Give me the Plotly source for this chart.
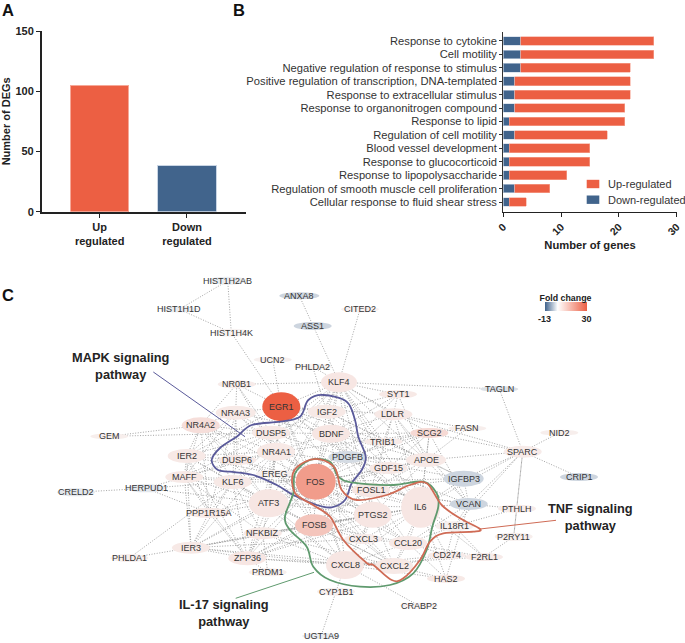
import plotly.graph_objects as go

# ---------- Panel A ----------
deg_categories = ["Up<br>regulated", "Down<br>regulated"]
deg_counts = [105, 38]
deg_ticks = [0, 50, 100, 150]

# ---------- Panel B ----------
terms = ["Response to cytokine", "Cell motility", "Negative regulation of response to stimulus",
         "Positive regulation of transcription, DNA-templated", "Response to extracellular stimulus",
         "Response to organonitrogen compound", "Response to lipid", "Regulation of cell motility",
         "Blood vessel development", "Response to glucocorticoid", "Response to lipopolysaccharide",
         "Regulation of smooth muscle cell proliferation", "Cellular response to fluid shear stress"]
genes_down = [3, 3, 3, 2, 2, 2, 1, 2, 1, 1, 1, 2, 1]
genes_up = [23, 23, 19, 20, 20, 19, 20, 16, 14, 14, 10, 6, 3]
gene_ticks = [0, 10, 20, 30]

# ---------- Panel C: network ----------
node_names = ["HIST1H2AB", "HIST1H1D", "HIST1H4K", "ANXA8", "ASS1", "CITED2", "UCN2", "PHLDA2", "NR0B1", "KLF4",
              "EGR1", "NR4A3", "IGF2", "NR4A2", "DUSP5", "BDNF", "GEM", "IER2", "NR4A1", "PDGFB",
              "DUSP6", "EREG", "MAFF", "KLF6", "HERPUD1", "CRELD2", "ATF3", "FOS", "PPP1R15A", "FOSB",
              "NFKBIZ", "IER3", "ZFP36", "PHLDA1", "PRDM1", "CXCL8", "CYP1B1", "UGT1A9", "CRABP2", "HAS2",
              "CXCL2", "CCL20", "CXCL3", "CD274", "F2RL1", "P2RY11", "IL18R1", "PTHLH", "VCAN", "IL6",
              "PTGS2", "FOSL1", "IGFBP3", "GDF15", "APOE", "SPARC", "CRIP1", "NID2", "FASN", "SCG2",
              "TRIB1", "LDLR", "SYT1", "TAGLN"]
node_x = [227.7, 179.3, 231.3, 299.3, 312.7, 360, 272.7, 312.7, 236.7, 339,
          281.3, 235.7, 326.7, 200.7, 271, 331, 109.3, 186.7, 276, 347.3,
          237.3, 275, 184.3, 232.7, 146, 76, 268.7, 315.7, 209, 314,
          262.7, 191, 247.3, 129.3, 267.7, 345, 336, 321, 419, 446,
          394, 408, 363.3, 446.7, 484, 513.7, 454.3, 517, 468.7, 420.7,
          372.7, 371, 463.7, 388.3, 426, 522.7, 579, 559.3, 467.3, 429.3,
          383.3, 393.3, 398, 499.3]
node_y = [280.7, 309.3, 332.7, 295.7, 326, 309.3, 359.7, 366.7, 384.3, 382.3,
          406.7, 412.7, 411.7, 425.3, 432.7, 433.7, 436.3, 456, 451.7, 457,
          460, 473.7, 477, 482, 488.3, 492.3, 503.3, 481.7, 513, 525.3,
          533.3, 547.7, 558.3, 558, 572.3, 565, 591.7, 636, 605.7, 578.7,
          566, 543, 539, 555.3, 557, 536.7, 526.3, 508.7, 504, 507.3,
          514.7, 490, 478.7, 468, 460, 451.7, 477, 432.7, 428.3, 433,
          441.7, 414.3, 394.3, 389]
node_rx = [19, 19, 19, 20, 19, 19, 19, 19, 19, 18,
           19, 20, 19, 19, 19, 19, 19, 19, 19, 19,
           19, 19, 19, 19, 19, 19, 20, 20, 22, 19,
           19, 19, 19, 19, 19, 19, 19, 19, 19, 19,
           19, 19, 19, 19, 19, 19, 19, 19, 19, 19.5,
           19, 19, 20, 19, 20, 19, 19, 19, 19, 19,
           19, 19, 19, 19]
node_ry = [4, 3, 4, 3.5, 4, 3, 3, 3, 4, 10,
           14.5, 7, 7, 8, 7, 9, 3, 7, 9, 6,
           5, 4, 6, 7, 4, 4, 14, 18, 5, 11,
           6, 6, 7, 4, 4, 14, 4, 3, 3, 4,
           8, 7, 5, 4, 4, 4, 5, 4, 6, 20.5,
           13, 7, 8, 6, 7, 6, 4, 3, 3, 5,
           4, 6, 4, 3]
node_fc = [-1, -1, 1, -3, -3, 1.5, 1.5, 1, 2.5, 3.5,
           30, 3, 3, 5, 3, 3.5, 2, 3, 3, -2.5,
           3, 1.5, 3, 3, -1.5, -1.5, 3.5, 18, 3, 10,
           3, 3, 3.5, 2, 2, 3.5, 1.5, -1, 1.5, 3,
           3, 3, 2.5, 2.5, 2.5, 2, 1.5, 2.5, -3, 3.5,
           3.5, 3.5, -3, 3, 3, 2.5, -3, 2, 2, 6,
           2.5, 3, 3, -2]

hub_links = {
    "FOS": ["EGR1", "NR4A1", "NR4A2", "NR4A3", "DUSP5", "DUSP6", "EREG", "KLF6", "ATF3", "FOSB", "FOSL1", "IL6", "PTGS2",
            "CXCL8", "CXCL2", "CXCL3", "CCL20", "IGF2", "BDNF", "PDGFB", "KLF4", "IER2", "IER3", "MAFF", "ZFP36", "NFKBIZ",
            "APOE", "SCG2", "TRIB1", "LDLR", "GDF15", "PPP1R15A", "IGFBP3", "VCAN", "SYT1"],
    "EGR1": ["UCN2", "HIST1H4K", "KLF4", "NR4A1", "NR4A3", "DUSP5", "IGF2", "BDNF", "ATF3", "FOSB", "PDGFB", "IL6", "PTGS2", "IER2",
             "NR0B1", "CXCL8", "LDLR", "TRIB1"],
    "IL6": ["CXCL8", "CXCL2", "CXCL3", "CCL20", "PTGS2", "FOSL1", "ATF3", "FOSB", "KLF4", "APOE", "IGFBP3", "VCAN", "SPARC", "IL18R1",
            "CD274", "F2RL1", "HAS2", "BDNF", "GDF15", "PDGFB", "ZFP36", "NFKBIZ", "IER3", "SCG2", "LDLR"],
    "CXCL8": ["CYP1B1", "CRABP2", "CXCL2", "CXCL3", "CCL20", "PTGS2", "FOSB", "ZFP36", "IER3", "NFKBIZ", "ATF3", "F2RL1", "CD274", "KLF6", "HAS2"],
    "ATF3": ["HERPUD1", "PPP1R15A", "NR4A1", "NR4A2", "DUSP6", "KLF6", "KLF4", "MAFF", "IER2", "IER3", "ZFP36", "NFKBIZ", "FOSB",
             "PTGS2", "FOSL1", "DUSP5", "TRIB1", "GDF15", "APOE", "CXCL2"],
    "KLF4": ["ANXA8", "CITED2", "NR0B1", "TAGLN", "PHLDA2", "IGF2", "BDNF", "LDLR", "TRIB1", "SYT1", "APOE", "SCG2", "DUSP5", "NR4A1",
             "PTGS2", "GDF15", "PDGFB", "KLF6", "ZFP36"],
    "NR4A1": ["NR4A2", "NR4A3", "NR0B1", "DUSP5", "DUSP6", "BDNF", "KLF6", "IER2", "MAFF", "FOSB", "IER3", "ZFP36", "PTGS2", "SCG2", "GDF15"],
    "SPARC": ["TAGLN", "NID2", "CRIP1", "SCG2", "APOE", "IGFBP3", "VCAN", "P2RY11", "LDLR"],
    "ZFP36": ["IER2", "IER3", "MAFF", "KLF6", "NFKBIZ", "PRDM1", "FOSB", "PPP1R15A", "CXCL2", "PTGS2", "FOSL1"],
    "IER3": ["PHLDA1", "IER2", "MAFF", "PPP1R15A", "NFKBIZ", "FOSB", "KLF6", "CXCL3", "CXCL2"],
    "PPP1R15A": ["HERPUD1", "IER2", "MAFF", "NR4A2", "KLF6", "NR4A3"],
    "DUSP5": ["GEM", "NR0B1", "NR4A2", "NR4A3", "DUSP6", "IER2", "MAFF", "EREG", "PDGFB", "BDNF", "IGF2"],
    "PTGS2": ["FOSB", "FOSL1", "CXCL2", "CXCL3", "CCL20", "EREG", "BDNF", "NFKBIZ", "APOE"],
    "APOE": ["LDLR", "SCG2", "FASN", "IGFBP3", "VCAN", "BDNF", "PDGFB", "TRIB1", "IGF2", "GDF15", "FOSL1", "SYT1"],
    "VCAN": ["PTHLH", "HAS2", "IGFBP3", "SCG2", "LDLR", "FOSL1", "CCL20"],
    "BDNF": ["IGF2", "PDGFB", "NR4A3", "SYT1", "SCG2", "TRIB1", "GDF15", "CXCL8", "LDLR"],
    "IGF2": ["PDGFB", "PHLDA2", "IGFBP3", "GDF15", "SYT1"],
    "PDGFB": ["IGFBP3", "SCG2", "EREG", "FOSL1", "VCAN", "APOE"],
    "LDLR": ["FASN", "SYT1", "TRIB1", "FOSL1"],
    "SCG2": ["FASN", "GDF15", "TRIB1"],
    "EREG": ["DUSP6", "KLF6", "FOSB", "FOSL1", "CCL20", "CXCL3", "CXCL2"],
    "IER2": ["NR4A2", "MAFF", "KLF6", "NR4A3", "DUSP6"],
    "NR4A2": ["NR0B1", "NR4A3", "MAFF", "KLF6", "GEM", "DUSP6"],
    "NR4A3": ["NR0B1", "MAFF", "KLF6", "DUSP6"],
    "KLF6": ["MAFF", "PHLDA1", "FOSB", "NFKBIZ", "DUSP6", "HERPUD1"],
    "MAFF": ["HERPUD1", "DUSP6", "NFKBIZ"],
    "NFKBIZ": ["PRDM1", "FOSB", "CXCL2"],
    "FOSB": ["FOSL1", "CXCL3", "CCL20", "CXCL2"],
    "CCL20": ["CXCL2", "CXCL3", "CD274", "HAS2", "FOSL1", "F2RL1"],
    "CXCL2": ["CXCL3", "CD274", "HAS2"],
    "FOSL1": ["IGFBP3", "CXCL3", "GDF15"],
    "HERPUD1": ["CRELD2"],
    "HIST1H2AB": ["HIST1H1D", "HIST1H4K"],
    "HIST1H1D": ["HIST1H4K"],
    "CYP1B1": ["UGT1A9"],
    "PTHLH": ["IL18R1"],
    "P2RY11": ["F2RL1", "SPARC"],
    "IL18R1": ["CCL20", "CD274", "F2RL1", "SPARC", "VCAN"],
    "CD274": ["F2RL1"],
}

mapk_path = [(211.7, 460), (220, 448), (236.7, 436.7), (251.7, 425), (280, 421.7), (300, 416.7), (308.3, 400),
             (323.3, 395), (346.7, 401.7), (355, 420), (358.3, 436.7), (365.7, 456.7), (361.7, 470), (351.7, 483.3),
             (345, 500), (331.7, 507.3), (316.7, 505), (293.3, 495), (276.7, 485), (253.3, 475), (230, 471.7), (218, 470)]
il17_path = [(310, 460), (330, 461.7), (338.3, 476.7), (353.3, 482.7), (393.3, 485), (423.3, 481.7), (436.7, 493.3),
             (438.3, 506.7), (432.3, 526.7), (426.7, 550), (413.3, 573.3), (390, 585), (360, 586.7), (330, 580),
             (313.3, 566.7), (306.7, 546.7), (290, 530), (285, 516.7), (293.3, 493.3), (295, 473.3)]
tnf_path = [(320, 459.3), (335, 468.3), (341.7, 490), (356.7, 500), (386.7, 495), (410, 485), (426.7, 483.3),
            (441.7, 505), (460, 518.3), (480, 529), (473.3, 531.7), (443.3, 533.3), (430, 541.7), (420, 560),
            (403.3, 578.3), (391.7, 580), (373.3, 565), (366.7, 563), (343.3, 540), (330, 516.7), (313, 505),
            (295, 493), (293, 473), (305, 461.7)]
pathways = [("MAPK signaling<br>pathway", mapk_path, "#5a5a9a", (120.7, 366), [(153.3, 372), (245, 436.7)]),
            ("IL-17 signaling<br>pathway", il17_path, "#5f9a6e", (224, 613), [(235.7, 598.3), (314, 572.3)]),
            ("TNF signaling<br>pathway", tnf_path, "#cf6b55", (590.7, 516.7), [(480, 529), (556, 520.3)])]

W, H = 685, 643
FONT = "Liberation Sans"
RED, BLUE = "#ec5f43", "#41648c"
GREY = "#9a9a9a"


def fc_color(v):
    lo, mid, hi = (63, 98, 140), (248, 248, 248), (236, 95, 67)
    if v < 0:
        t, a, b = -v / 13, mid, lo
    else:
        t, a, b = v / 30, mid, hi
    return "rgb(%d,%d,%d)" % tuple(round(a[i] + (b[i] - a[i]) * t) for i in range(3))


def smooth_closed(pts):
    n = len(pts)
    d = "M%.1f,%.1f" % pts[0]
    for i in range(n):
        p0, p1, p2, p3 = pts[i - 1], pts[i], pts[(i + 1) % n], pts[(i + 2) % n]
        c1 = (p1[0] + (p2[0] - p0[0]) / 6, p1[1] + (p2[1] - p0[1]) / 6)
        c2 = (p2[0] - (p3[0] - p1[0]) / 6, p2[1] - (p3[1] - p1[1]) / 6)
        d += " C%.1f,%.1f %.1f,%.1f %.1f,%.1f" % (*c1, *c2, *p2)
    return d + " Z"


pos = {n: (x, y) for n, x, y in zip(node_names, node_x, node_y)}
edge_x, edge_y = [], []
for a, others in hub_links.items():
    for b in others:
        edge_x += [pos[a][0], pos[b][0], None]
        edge_y += [pos[a][1], pos[b][1], None]

fig = go.Figure()
# Panel A
fig.add_trace(go.Bar(x=deg_categories, y=deg_counts, width=0.666, marker=dict(color=[RED, BLUE],
              line=dict(color=["#f6a898", "#c9d5e4"], width=1)), showlegend=False, xaxis="x", yaxis="y"))
# Panel B
fig.add_trace(go.Bar(y=terms, x=genes_down, orientation="h", width=0.65, name="Down-regulated",
              marker=dict(color=BLUE, line=dict(color="#c9d5e4", width=0.6)), showlegend=False, xaxis="x2", yaxis="y2"))
fig.add_trace(go.Bar(y=terms, x=genes_up, orientation="h", width=0.65, name="Up-regulated",
              marker=dict(color=RED, line=dict(color="#f6a898", width=0.6)), showlegend=False, xaxis="x2", yaxis="y2"))
# Panel C edges and the fold-change colour bar
fig.add_trace(go.Scatter(x=edge_x, y=edge_y, mode="lines", hoverinfo="skip", showlegend=False,
              line=dict(color=GREY, width=0.9, dash="1px,1.6px"), xaxis="x3", yaxis="y3"))
fig.add_trace(go.Scatter(x=[None, None], y=[None, None], mode="markers", showlegend=False, xaxis="x3", yaxis="y3",
              marker=dict(color=[-13, 30], cmin=-13, cmax=30,
                          colorscale=[[0, "#3f628c"], [13 / 43, "#ffffff"], [1, "#ec5f43"]],
                          colorbar=dict(orientation="h", thickness=9, thicknessmode="pixels", len=41.5, lenmode="pixels",
                                        x=565.5 / W, xanchor="center", y=1 - 321 / H, yanchor="bottom", ypad=0, xpad=0,
                                        outlinewidth=0, tickmode="array", tickvals=[-13, 30], ticktext=["-13", "30"], ticks="",
                                        ticklabelposition="outside",
                                        tickfont=dict(family=FONT, size=9, color="#222", weight="bold"),
                                        title=dict(text="Fold change", side="top",
                                                   font=dict(family=FONT, size=8.8, color="#222", weight="bold"))))))

shapes, annotations = [], []
for n, x, y, rx, ry, fc in zip(node_names, node_x, node_y, node_rx, node_ry, node_fc):
    shapes.append(dict(type="circle", xref="x3", yref="y3", x0=x - rx, x1=x + rx, y0=y - ry, y1=y + ry,
                       fillcolor=fc_color(fc), line=dict(width=0), layer="above"))
    annotations.append(dict(text=n, xref="x3", yref="y3", x=x, y=y, showarrow=False, xanchor="center", yanchor="middle",
                            opacity=0.99, font=dict(family=FONT, size=9, color="#333")))
for label, path, color, tpos, leader in pathways:
    shapes.append(dict(type="path", xref="x3", yref="y3", path=smooth_closed(path),
                       line=dict(color=color, width=1.8), layer="above"))
    shapes.append(dict(type="line", xref="x3", yref="y3", x0=leader[0][0], y0=leader[0][1], x1=leader[1][0], y1=leader[1][1],
                       line=dict(color=color, width=1), layer="above"))
    annotations.append(dict(text="<b>%s</b>" % label, xref="x3", yref="y3", x=tpos[0], y=tpos[1], showarrow=False,
                            opacity=0.99, font=dict(family=FONT, size=12.8, color="#222"), align="center"))

# panel letters
for letter, x, y in [("A", 8, 9.5), ("B", 239, 9.5), ("C", 8, 295)]:
    annotations.append(dict(text="<b>%s</b>" % letter, xref="x3", yref="y3", x=x, y=y, showarrow=False,
                            font=dict(family=FONT, size=16.5, color="#111")))

# Panel B legend
for label, color, y in [("Up-regulated", RED, 184), ("Down-regulated", BLUE, 199.7)]:
    shapes.append(dict(type="rect", xref="x3", yref="y3", x0=586.7, x1=599.3, y0=y - 4.2, y1=y + 4.2,
                       fillcolor=color, line=dict(width=0), layer="above"))
    annotations.append(dict(text=label, xref="x3", yref="y3", x=606, y=y, xanchor="left", showarrow=False,
                            opacity=0.99, font=dict(family=FONT, size=11, color="#333")))

fig.update_layout(
    width=W, height=H, margin=dict(l=0, r=0, t=0, b=0, autoexpand=False), paper_bgcolor="white", plot_bgcolor="rgba(0,0,0,0)",
    barmode="stack", hoverlabel=dict(font_size=9), bargap=0.34,
    xaxis=dict(domain=[41.7 / W, 246 / W], range=[-0.664, 1.676], linewidth=1.8, ticklen=4, tickwidth=1.2, anchor="y",
               showline=True, linecolor="#222", ticks="outside", tickcolor="#222", showgrid=False, zeroline=False,
               tickfont=dict(family=FONT, size=11, color="#222", weight="bold")),
    yaxis=dict(domain=[1 - 211.7 / H, 1 - 31 / H], range=[0, 150], tickvals=deg_ticks, linewidth=1.5, ticklen=4, tickwidth=1.2,
               anchor="x", tickfont=dict(family=FONT, size=11, color="#222", weight="bold"),
               title=dict(text="<b>Number of DEGs</b>", standoff=5, font=dict(family=FONT, size=11, color="#222")),
               showline=True, linecolor="#222", ticks="outside", tickcolor="#222", showgrid=False, zeroline=False),
    xaxis2=dict(domain=[503.3 / W, 676.7 / W], range=[0, 30], tickvals=gene_ticks, tickangle=-45, linewidth=1.2, ticklen=4, anchor="y2",
                tickfont=dict(family=FONT, size=10.5, color="#222", weight="bold"),
                title=dict(text="<b>Number of genes</b>", standoff=4, font=dict(family=FONT, size=11.2, color="#222")),
                showline=True, linecolor="#222", ticks="outside", tickcolor="#222", showgrid=False, zeroline=False),
    yaxis2=dict(domain=[1 - 211.7 / H, 1 - 31.7 / H], range=[12.72, -0.69], anchor="x2", linewidth=1.2, ticklen=3,
                categoryorder="array", categoryarray=terms, dtick=1, tickfont=dict(family=FONT, size=11.2, color="#333"),
                showline=True, linecolor="#333", ticks="outside", tickcolor="#333", showgrid=False, zeroline=False),
    xaxis3=dict(domain=[0, 1], range=[0, W], visible=False, anchor="y3", fixedrange=True),
    yaxis3=dict(domain=[0, 1], range=[H, 0], visible=False, anchor="x3", fixedrange=True),
    shapes=shapes, annotations=annotations,
)
fig.write_html("out.html", config={"displayModeBar": False},
               post_script="document.body.style.margin='0';")
